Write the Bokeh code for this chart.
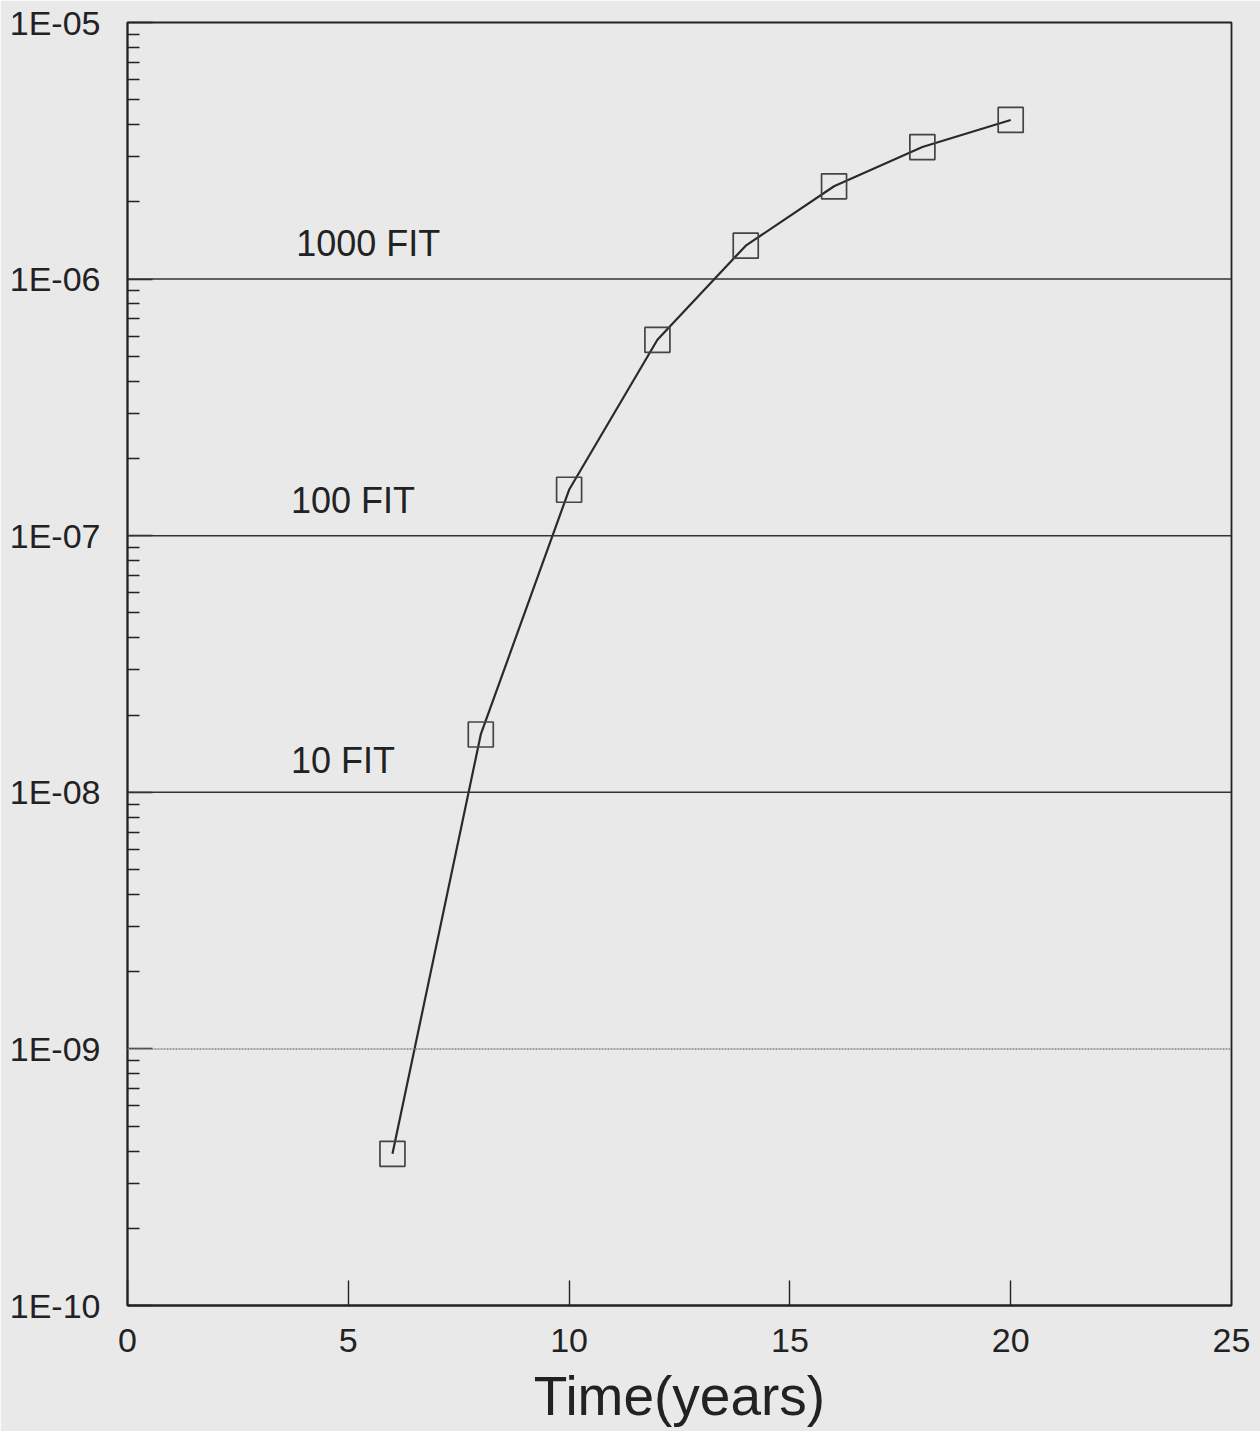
from bokeh.plotting import figure
from bokeh.models import FixedTicker, CustomJSTickFormatter, Span
from bokeh.core.properties import value
from bokeh.embed import file_html
from bokeh.resources import INLINE

# data
time_years = [6, 8, 10, 12, 14, 16, 18, 20]
failure_rate = [3.9e-10, 1.68e-8, 1.51e-7, 5.8e-7, 1.35e-6, 2.3e-6, 3.27e-6, 4.17e-6]

x_ticks = [0, 5, 10, 15, 20, 25]
y_ticks = [1e-10, 1e-9, 1e-8, 1e-7, 1e-6, 1e-5]

fit_levels = [1e-6, 1e-7, 1e-8, 1e-9]
fit_level_colors = ["#333333", "#333333", "#333333", "#888888"]
fit_level_dash = ["solid", "solid", "solid", "2 1"]

fit_labels = ["1000 FIT", "100 FIT", "10 FIT"]
fit_label_x = [3.82, 3.7, 3.7]
fit_label_y = [1.38e-6, 1.37e-7, 1.33e-8]

BG = "#e9e9e9"
INK = "#222222"
FONT = "Liberation Sans"

p = figure(width=1260, height=1431, x_range=(0, 25), y_range=(1e-10, 1e-5),
           y_axis_type="log", output_backend="svg", toolbar_location=None,
           min_border_left=127, min_border_right=29, min_border_top=22,
           min_border_bottom=126)

p.background_fill_color = BG
p.border_fill_color = BG
p.outline_line_color = INK
p.outline_line_width = 1.8
p.xgrid.visible = False
p.ygrid.visible = False

minor = []
for e in range(-10, -5):
    for k in range(2, 10):
        minor.append(k * 10.0 ** e)

p.yaxis.ticker = FixedTicker(ticks=y_ticks, minor_ticks=minor)
p.yaxis.formatter = CustomJSTickFormatter(code="""
const e = Math.round(Math.log10(tick));
return '1E-' + String(-e).padStart(2, '0');
""")
p.xaxis.ticker = FixedTicker(ticks=x_ticks)

for ax in (p.xaxis[0], p.yaxis[0]):
    ax.axis_line_color = INK
    ax.axis_line_width = 1.8
    ax.major_tick_line_color = INK
    ax.major_tick_line_width = 1.4
    ax.minor_tick_line_color = INK
    ax.minor_tick_line_width = 1.4
    ax.major_tick_in = 25
    ax.major_tick_out = 0
    ax.minor_tick_in = 12
    ax.minor_tick_out = 0
    ax.major_label_text_font = FONT
    ax.major_label_text_font_size = "34px"
    ax.major_label_text_color = INK

p.xaxis.minor_tick_line_color = None
p.xaxis.major_label_standoff = 23
p.yaxis.major_label_standoff = 27
p.xaxis.axis_label = "Time(years)"
p.xaxis.axis_label_text_font = FONT
p.xaxis.axis_label_text_font_size = "55px"
p.xaxis.axis_label_text_font_style = "normal"
p.xaxis.axis_label_text_color = INK
p.xaxis.axis_label_standoff = 10

for lvl, col, dash in zip(fit_levels, fit_level_colors, fit_level_dash):
    p.add_layout(Span(location=lvl, dimension="width", line_color=col,
                      line_width=1.5, line_dash=dash))

p.text(x=fit_label_x, y=fit_label_y, text=fit_labels,
       text_font=value(FONT), text_font_size="36px", text_color=INK,
       text_align="left", text_baseline="middle")

p.line(time_years, failure_rate, line_color="#2a2a2a", line_width=2.2)
p.scatter(time_years, failure_rate, marker="square", size=25,
          fill_color=None, line_color="#444444", line_width=1.7)

open("out.html", "w").write(file_html(p, INLINE))
